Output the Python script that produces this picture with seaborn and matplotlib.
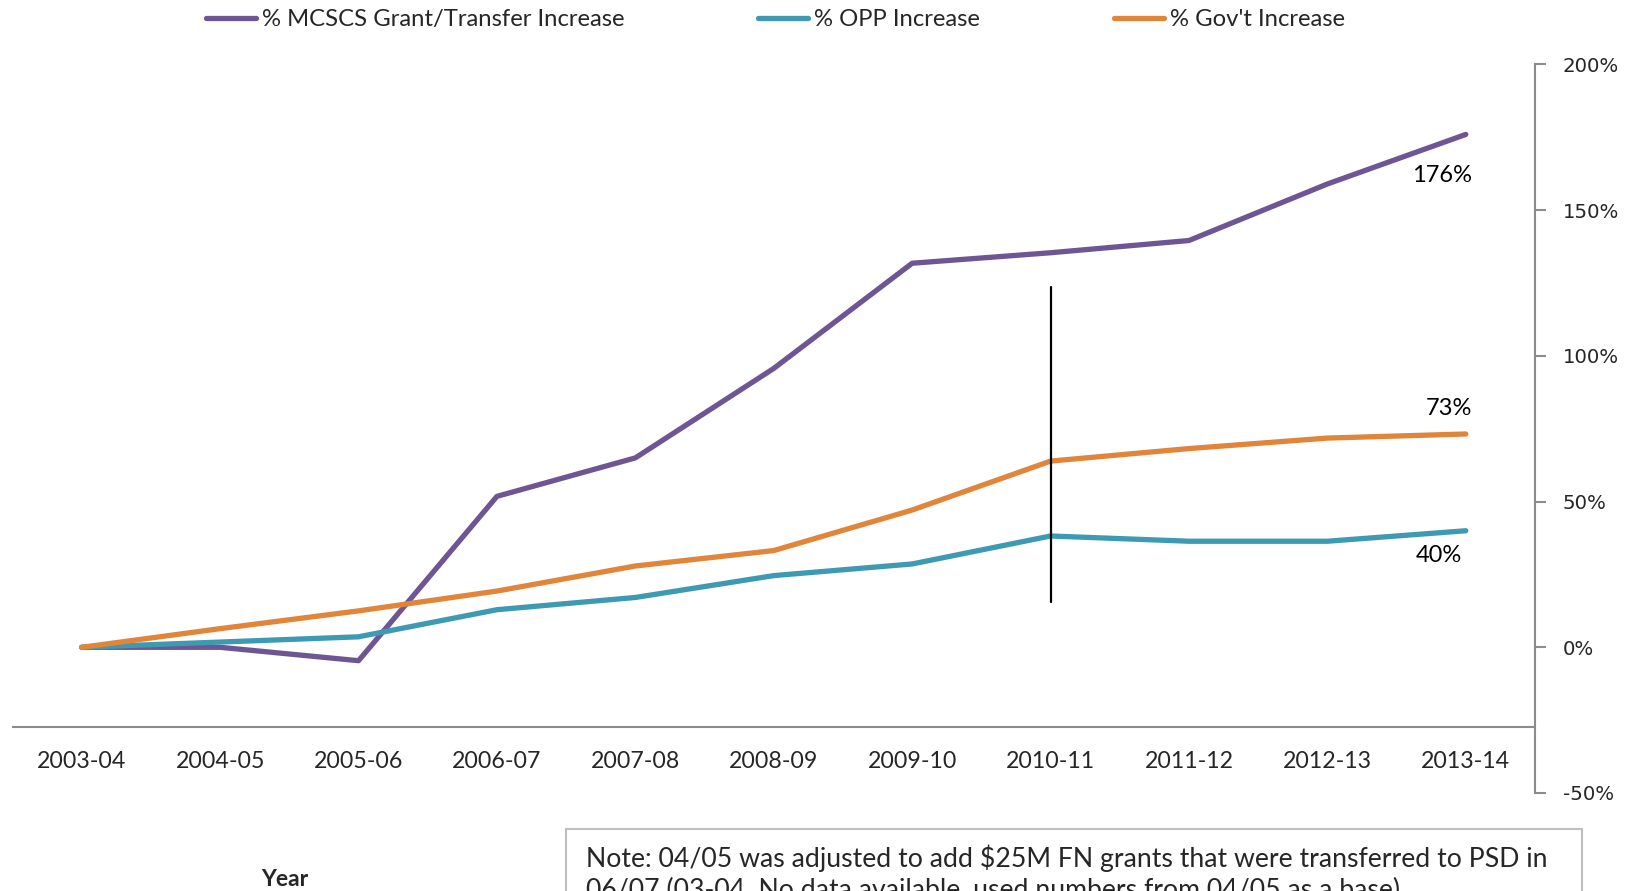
import numpy as np
import pandas as pd
import matplotlib
matplotlib.use('Agg')
import matplotlib.pyplot as plt
import seaborn as sns
from matplotlib.patches import Rectangle

## chart data
years = ['2003-04', '2004-05', '2005-06', '2006-07', '2007-08', '2008-09',
         '2009-10', '2010-11', '2011-12', '2012-13', '2013-14']
mcscs = [0, 0, -4.6, 51.8, 65.0, 95.7, 131.8, 135.4, 139.6, 159.0, 176.0]
opp = [0, 1.8, 3.6, 12.9, 17.1, 24.6, 28.6, 38.2, 36.4, 36.4, 40.0]
govt = [0, 6.4, 12.5, 19.3, 27.9, 33.2, 47.1, 63.9, 68.2, 71.8, 73.2]
series_names = ['% MCSCS Grant/Transfer Increase', '% OPP Increase', "% Gov't Increase"]
end_labels = ['176%', '40%', '73%']
marker_year = '2010-11'
marker_span = [15.7, 123.6]
y_ticks = [-50, 0, 50, 100, 150, 200]
note = ('Note: 04/05 was adjusted to add \\$25M FN grants that were transferred to PSD in\n'
        '06/07 (03-04. No data available, used numbers from 04/05 as a base)')

colors = ['#6E5593', '#3D9AB2', '#E08539']

sns.set_style('white')
plt.rcParams['font.family'] = ['Lato', 'DejaVu Sans']

df = pd.DataFrame({'year': years, series_names[0]: mcscs,
                   series_names[1]: opp, series_names[2]: govt})
long = df.melt(id_vars='year', var_name='series', value_name='pct')
long['x'] = long['year'].map({y: i for i, y in enumerate(years)})

fig = plt.figure(figsize=(16.31, 8.91), dpi=100)
ax = fig.add_axes([12.5 / 1631, 98 / 891, (1535 - 12.5) / 1631, (793 - 64.5) / 891])

sns.lineplot(data=long, x='x', y='pct', hue='series', hue_order=series_names,
             palette=colors, linewidth=3.8, ax=ax, legend=False,
             solid_capstyle='round', solid_joinstyle='round')

# vertical marker line at 2010-11
mx = years.index(marker_year)
ax.plot([mx, mx], marker_span, color='black', lw=1.6)

# end-of-line labels
last = len(years) - 1
offsets = [(-24, -41), (-27, -25), (-17, 25)]
for vals, lab, off in zip([mcscs, opp, govt], end_labels, offsets):
    ax.annotate(lab, (last, vals[-1]), xytext=off, textcoords='offset pixels',
                ha='center', va='center', fontsize=17, color='black')

ax.set_xlim(-0.5, len(years) - 0.5)
ax.set_ylim(-50, 200)

# axes styling
for s in ['top', 'left']:
    ax.spines[s].set_visible(False)
ax.spines['bottom'].set_position(('data', -27.3))
for s in ['bottom', 'right']:
    ax.spines[s].set_color('#8c8c8c')
    ax.spines[s].set_linewidth(1.5)

ax.set_xticks(range(len(years)))
ax.set_xticklabels(years, fontsize=16.7)
ax.set_xticks(np.arange(-0.5, len(years)), minor=True)
ax.tick_params(axis='x', which='major', length=0, pad=17.5)
ax.tick_params(axis='x', which='minor', length=8, width=1.5, color='#8c8c8c', direction='out')

ax.yaxis.tick_right()
ax.set_yticks(y_ticks)
ax.set_yticklabels([f'{v}%' for v in y_ticks], fontsize=14.2, family='DejaVu Sans')
ax.tick_params(axis='y', length=8, width=1.5, color='#8c8c8c', direction='out', pad=12)
ax.set_xlabel('')
ax.set_ylabel('')
ax.grid(False)

# legend across the top
handles = [plt.Line2D([], [], color=c, lw=3.8, solid_capstyle='round') for c in colors]
fig.legend(handles, series_names, loc='center', bbox_to_anchor=(0.4755, 0.978), ncol=3,
           frameon=False, fontsize=17.2, handlelength=2.1, handletextpad=0.25,
           columnspacing=5.6)

fig.text(285 / 1631, 1 - 880 / 891, 'Year', ha='center', va='center',
         fontsize=16.5, fontweight='bold')

# note box, runs off the bottom edge like the original
fig.patches.append(Rectangle((566 / 1631, -0.1), (1582 - 566) / 1631, 0.1 + 62 / 891,
                             transform=fig.transFigure, fill=False,
                             edgecolor='#bfbfbf', lw=1.5))
fig.text(586 / 1631, 1 - 845 / 891, note, ha='left', va='top', fontsize=19.2,
         linespacing=1.25)

fig.savefig('out.png', dpi=100)
